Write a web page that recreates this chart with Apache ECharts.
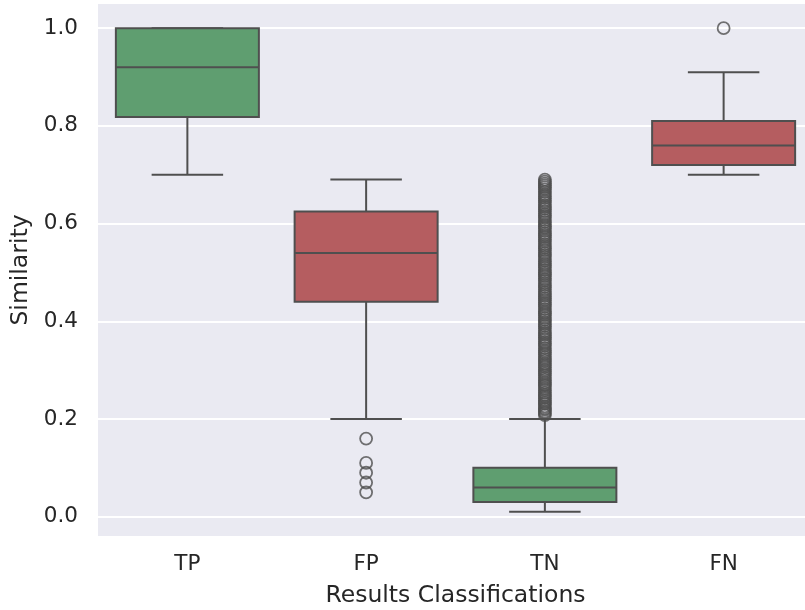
<!DOCTYPE html>
<html>
<head>
<meta charset="utf-8">
<script src="https://cdn.jsdelivr.net/npm/echarts@6/dist/echarts.min.js"></script>
<style>html,body{margin:0;padding:0;background:#fff}#c{width:805px;height:610px}</style>
</head>
<body>
<div id="c"></div>
<script>
const categories = ['TP', 'FP', 'TN', 'FN'];
const whiskerLow = [0.70, 0.20, 0.01, 0.70];
const q1 = [0.818, 0.44, 0.03, 0.72];
const median = [0.92, 0.54, 0.06, 0.76];
const q3 = [1.0, 0.625, 0.10, 0.81];
const whiskerHigh = [1.0, 0.69, 0.20, 0.91];
const boxColors = ['#5F9E70', '#B55D60', '#5F9E70', '#B55D60'];
const outliersFP = [0.16, 0.11, 0.09, 0.07, 0.05];
const outliersFN = [1.0];
const outliersTN = [0.208,0.212,0.215,0.219,0.222,0.226,0.231,0.234,0.238,0.243,0.247,0.25,0.254,0.259,0.263,0.268,0.271,0.275,0.28,0.284,0.289,0.293,0.297,0.301,0.306,0.31,0.314,0.319,0.323,0.327,0.332,0.336,0.34,0.345,0.35,0.354,0.358,0.363,0.367,0.372,0.376,0.38,0.385,0.39,0.394,0.398,0.403,0.407,0.412,0.416,0.42,0.425,0.43,0.434,0.438,0.443,0.447,0.452,0.456,0.46,0.465,0.47,0.474,0.478,0.483,0.487,0.492,0.496,0.5,0.505,0.51,0.514,0.518,0.523,0.527,0.532,0.536,0.54,0.545,0.55,0.554,0.558,0.563,0.567,0.572,0.576,0.58,0.585,0.59,0.594,0.598,0.603,0.607,0.612,0.616,0.62,0.625,0.63,0.634,0.638,0.643,0.647,0.652,0.656,0.66,0.665,0.67,0.674,0.678,0.682,0.686,0.69];
const yTicks = [0.0, 0.2, 0.4, 0.6, 0.8, 1.0];

const LINE = '#4f4f4f';
const boxData = categories.map((c, i) => [i, whiskerLow[i], q1[i], median[i], q3[i], whiskerHigh[i]]);
const outlierData = []
  .concat(outliersFP.map(v => [1, v]))
  .concat(outliersTN.map(v => [2, v]))
  .concat(outliersFN.map(v => [3, v]));

const chart = echarts.init(document.getElementById('c'), null, {renderer: 'canvas'});
const font = 'DejaVu Sans';
chart.setOption({
  backgroundColor: '#ffffff',
  animation: false,
  grid: {
    left: 98, top: 4, width: 715, height: 532,
    show: true, backgroundColor: '#EAEAF2', borderWidth: 0,
    outerBoundsMode: 'none', containLabel: false
  },
  xAxis: {
    type: 'category',
    data: categories,
    boundaryGap: true,
    name: 'Results Classifications',
    nameLocation: 'middle',
    nameGap: 48,
    nameTextStyle: {fontFamily: font, fontSize: 23.5, color: '#262626'},
    axisLine: {show: false},
    axisTick: {show: false},
    splitLine: {show: false},
    axisLabel: {fontFamily: font, fontSize: 21.5, color: '#262626', margin: 17}
  },
  yAxis: {
    type: 'value',
    min: -0.0395,
    max: 1.0495,
    name: 'Similarity',
    nameLocation: 'middle',
    nameGap: 63,
    nameTextStyle: {fontFamily: font, fontSize: 23.5, color: '#262626'},
    axisLine: {show: false},
    axisTick: {show: false, customValues: yTicks},
    splitLine: {show: true, lineStyle: {color: '#ffffff', width: 1.8}},
    axisLabel: {
      fontFamily: font, fontSize: 21.5, color: '#262626', margin: 20,
      customValues: yTicks,
      formatter: v => v.toFixed(1)
    }
  },
  series: [
    {
      type: 'custom',
      data: boxData,
      encode: {x: 0, y: [1, 2, 3, 4, 5]},
      z: 2,
      renderItem: function (params, api) {
        const i = api.value(0);
        const bw = api.size([1, 0])[0] * 0.8;
        const pLow = api.coord([i, api.value(1)]);
        const pQ1 = api.coord([i, api.value(2)]);
        const pMed = api.coord([i, api.value(3)]);
        const pQ3 = api.coord([i, api.value(4)]);
        const pHigh = api.coord([i, api.value(5)]);
        const cx = pMed[0];
        const ls = {stroke: LINE, lineWidth: 2};
        const children = [
          {type: 'line', shape: {x1: cx, y1: pQ1[1], x2: cx, y2: pLow[1]}, style: ls},
          {type: 'line', shape: {x1: cx, y1: pQ3[1], x2: cx, y2: pHigh[1]}, style: ls},
          {type: 'line', shape: {x1: cx - bw / 4, y1: pLow[1], x2: cx + bw / 4, y2: pLow[1]}, style: ls},
          {type: 'line', shape: {x1: cx - bw / 4, y1: pHigh[1], x2: cx + bw / 4, y2: pHigh[1]}, style: ls},
          {type: 'rect', shape: {x: cx - bw / 2, y: pQ3[1], width: bw, height: pQ1[1] - pQ3[1]},
            style: {fill: boxColors[i], stroke: LINE, lineWidth: 2}},
          {type: 'line', shape: {x1: cx - bw / 2, y1: pMed[1], x2: cx + bw / 2, y2: pMed[1]}, style: ls}
        ];
        return {type: 'group', children: children};
      }
    },
    {
      type: 'scatter',
      data: outlierData,
      symbol: 'circle',
      symbolSize: 12,
      z: 3,
      itemStyle: {color: 'rgba(0,0,0,0)', borderColor: LINE, borderWidth: 1.8}
    }
  ]
});
</script>
</body>
</html>
